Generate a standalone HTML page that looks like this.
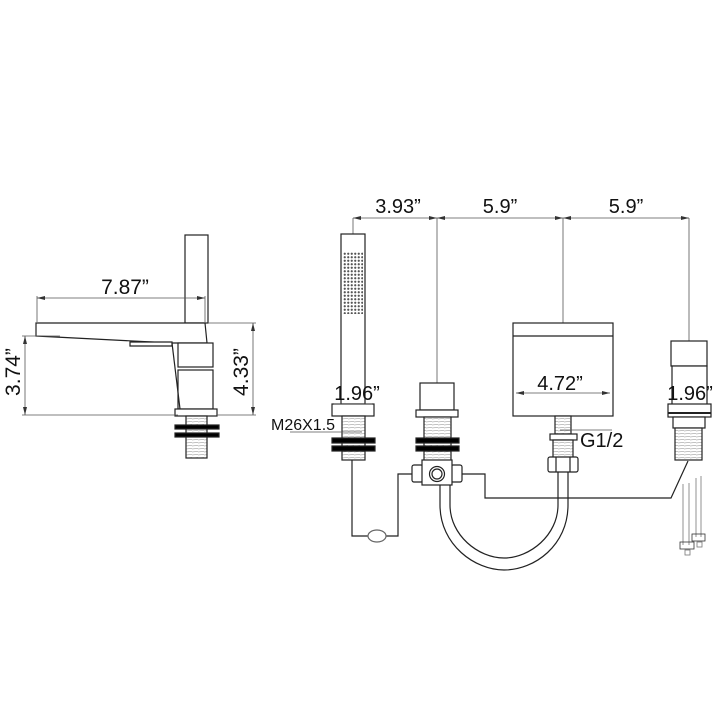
<!DOCTYPE html>
<html><head><meta charset="utf-8"><style>
html,body{margin:0;padding:0;background:#fff;}
svg{display:block}
text{font-family:"Liberation Sans",Arial,sans-serif;fill:#111}
</style></head><body>
<svg width="720" height="720" viewBox="0 0 720 720" xmlns="http://www.w3.org/2000/svg">
<defs>
<pattern id="thr" width="6" height="3" patternUnits="userSpaceOnUse"><rect width="6" height="3" fill="#fff"/><line x1="0" y1="2" x2="6" y2="1.5" stroke="#888" stroke-width="0.6"/></pattern>
<pattern id="dots" width="3.5" height="3.5" patternUnits="userSpaceOnUse"><rect width="3.5" height="3.5" fill="#fff"/><circle cx="1.75" cy="1.75" r="1.1" fill="#555"/></pattern>
<marker id="ar" markerWidth="8" markerHeight="6" refX="8" refY="3" orient="auto-start-reverse" markerUnits="userSpaceOnUse"><path d="M0,1 L8,3 L0,5 Z" fill="#333"/></marker>
</defs>
<g fill="none" stroke="#222" stroke-width="1.2">
<rect x="185" y="235" width="23" height="88" fill="#fff"/>
<path d="M36,323 L205,323 L207,343 L172,343 L36,336 Z" fill="#fff"/>
<path d="M130,342 L172,342 L172,346 L130,346 Z" fill="#fff"/>
<rect x="178" y="343" width="35" height="24" fill="#fff"/>
<rect x="178" y="370" width="35" height="39" fill="#fff"/>
<path d="M172,343 L180,409"/>
<rect x="175" y="409" width="42" height="7" fill="#fff"/>
<rect x="186" y="416" width="21" height="42" fill="url(#thr)"/>
<rect x="175" y="425" width="44" height="4" fill="#000"/>
<rect x="175" y="433" width="44" height="4" fill="#000"/>
</g>
<g stroke="#555" stroke-width="0.8" fill="none">
<line x1="37" y1="298" x2="205" y2="298" marker-start="url(#ar)" marker-end="url(#ar)"/><line x1="37" y1="296" x2="37" y2="322"/><line x1="205" y1="296" x2="205" y2="322"/>
<line x1="25" y1="336" x2="25" y2="415" marker-start="url(#ar)" marker-end="url(#ar)"/><line x1="22" y1="336" x2="60" y2="336"/><line x1="22" y1="415" x2="178" y2="415"/>
<line x1="253" y1="323" x2="253" y2="415" marker-start="url(#ar)" marker-end="url(#ar)"/><line x1="208" y1="323" x2="256" y2="323"/><line x1="217" y1="415" x2="256" y2="415"/>
</g>
<text x="125" y="294" font-size="21" text-anchor="middle">7.87”</text>
<text transform="translate(20,372) rotate(-90)" font-size="21" text-anchor="middle">3.74”</text>
<text transform="translate(248,372) rotate(-90)" font-size="21" text-anchor="middle">4.33”</text>

<g stroke="#555" stroke-width="0.8" fill="none">
<line x1="353" y1="218" x2="437" y2="218" marker-start="url(#ar)" marker-end="url(#ar)"/>
<line x1="437" y1="218" x2="563" y2="218" marker-start="url(#ar)" marker-end="url(#ar)"/>
<line x1="563" y1="218" x2="689" y2="218" marker-start="url(#ar)" marker-end="url(#ar)"/>
<line x1="353" y1="218" x2="353" y2="234"/>
<line x1="437" y1="218" x2="437" y2="383"/>
<line x1="563" y1="218" x2="563" y2="323"/>
<line x1="689" y1="218" x2="689" y2="341"/>
</g>
<text x="398" y="213" font-size="20" text-anchor="middle">3.93”</text>
<text x="500" y="213" font-size="20" text-anchor="middle">5.9”</text>
<text x="626" y="213" font-size="20" text-anchor="middle">5.9”</text>

<g fill="none" stroke="#222" stroke-width="1.2">
<rect x="341" y="234" width="24" height="170" fill="#fff"/>
<rect x="343" y="252" width="20" height="62" fill="url(#dots)" stroke="none"/>
<rect x="332" y="404" width="42" height="12" fill="#fff"/>
<rect x="342" y="416" width="23" height="44" fill="url(#thr)"/>
<rect x="332" y="438" width="43" height="5" fill="#000"/>
<rect x="332" y="446" width="43" height="5" fill="#000"/>
<path d="M352,460 L352,536 L398,536 L398,474 L412,474"/>
<ellipse cx="377" cy="536" rx="9" ry="6" stroke="#666" fill="#fff"/>
</g>
<line x1="334" y1="404" x2="372" y2="404" stroke="#555" stroke-width="0.8"/>
<line x1="290" y1="432" x2="362" y2="432" stroke="#555" stroke-width="0.8"/>
<text x="357" y="400" font-size="20" text-anchor="middle">1.96”</text>
<text x="271" y="430" font-size="16">M26X1.5</text>

<g fill="none" stroke="#222" stroke-width="1.2">
<rect x="420" y="383" width="34" height="27" fill="#fff"/>
<rect x="416" y="410" width="42" height="7" fill="#fff"/>
<rect x="424" y="417" width="27" height="44" fill="url(#thr)"/>
<rect x="416" y="438" width="43" height="5" fill="#000"/>
<rect x="416" y="446" width="43" height="5" fill="#000"/>
<rect x="412" y="465" width="11" height="17" rx="2" fill="#fff"/>
<rect x="451" y="465" width="11" height="17" rx="2" fill="#fff"/>
<rect x="422" y="460" width="30" height="25" fill="#fff"/>
<circle cx="437" cy="474" r="7.5"/><circle cx="437" cy="474" r="5"/>
<path d="M462,474 L485,474 L485,498 L671,498 L688,461"/>
<path d="M440,485 L440,505 C440,545 475,570 504,570 C535,570 568,545 568,505 L568,470"/>
<path d="M450,485 L450,505 C450,535 478,558 504,558 C530,558 558,535 558,505 L558,470"/>
</g>

<g fill="none" stroke="#222" stroke-width="1.2">
<rect x="513" y="323" width="100" height="93" fill="#fff"/>
<line x1="513" y1="336" x2="613" y2="336"/>
<rect x="555" y="416" width="16" height="18" fill="url(#thr)"/>
<rect x="550" y="434" width="27" height="6" fill="#fff"/>
<rect x="553" y="440" width="20" height="18" fill="url(#thr)"/>
<rect x="548" y="457" width="30" height="15" rx="2" fill="#fff"/>
<line x1="556" y1="457" x2="556" y2="472"/><line x1="570" y1="457" x2="570" y2="472"/>
</g>
<line x1="516" y1="393" x2="610" y2="393" stroke="#555" stroke-width="0.8" marker-start="url(#ar)" marker-end="url(#ar)"/>
<line x1="560" y1="430" x2="612" y2="430" stroke="#555" stroke-width="0.8"/>
<text x="560" y="390" font-size="20" text-anchor="middle">4.72”</text>
<text x="580" y="447" font-size="20">G1/2</text>

<g fill="none" stroke="#222" stroke-width="1.2">
<rect x="671" y="341" width="36" height="25" fill="#fff"/>
<rect x="672" y="366" width="35" height="39" fill="#fff"/>
<rect x="668" y="404" width="43" height="13" fill="#fff"/>
<line x1="668" y1="413" x2="711" y2="413" stroke-width="2"/>
<rect x="673" y="417" width="32" height="11" fill="#fff"/>
<rect x="675" y="428" width="27" height="32" fill="url(#thr)"/>
</g>
<g fill="none" stroke="#777" stroke-width="0.8">
<path d="M683,484 L683,545 M689,483 L689,545 M696,478 L696,537 M701,476 L701,537"/>
<rect x="680" y="542" width="14" height="7" stroke="#333"/>
<rect x="692" y="534" width="13" height="7" stroke="#333"/>
<rect x="685" y="550" width="5" height="5"/><rect x="697" y="542" width="5" height="5"/>
</g>
<text x="690" y="400" font-size="20" text-anchor="middle">1.96”</text>
</svg>
</body></html>
